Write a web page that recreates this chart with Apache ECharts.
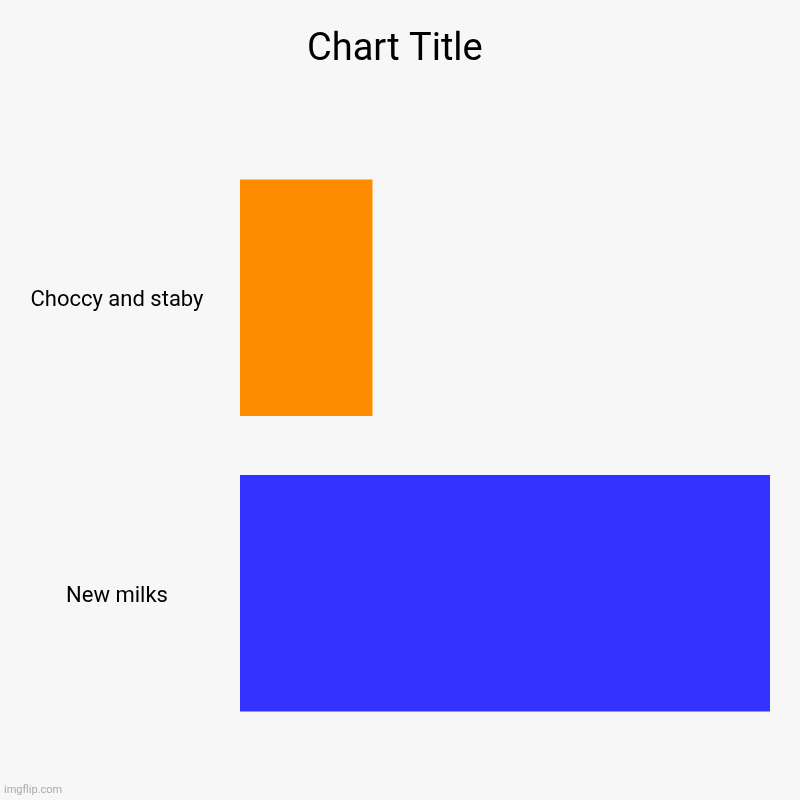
<!DOCTYPE html>
<html>
<head>
<meta charset="utf-8">
<script src="https://cdn.jsdelivr.net/npm/echarts@6/dist/echarts.min.js"></script>
<style>
  html, body { margin: 0; padding: 0; background: #f7f7f7; }
  #main { width: 800px; height: 800px; }
</style>
</head>
<body>
<div id="main"></div>
<script>
// chart data
const categories = ["Choccy and staby", "New milks"];
const values = [1, 4];
const barColors = ["#ff8c00", "#3333ff"];

var myChart = echarts.init(document.getElementById("main"));

var option = {
  backgroundColor: "#f7f7f7",
  animation: false,
  title: {
    text: "Chart Title",
    left: 302,
    top: 26,
    textStyle: { fontFamily: "Roboto", fontSize: 38, fontWeight: "normal", color: "#000" },
  },
  grid: { left: 240, right: 30, top: 150, bottom: 59 },
  xAxis: {
    type: "value",
    min: 0,
    max: Math.max(...values),
    show: false,
  },
  yAxis: {
    type: "category",
    data: categories,
    inverse: true,
    axisLine: { show: false },
    axisTick: { show: false },
    axisLabel: {
      align: "center",
      verticalAlign: "top",
      margin: 123,
      padding: [-8, 0, 0, 0],
      fontFamily: "Roboto",
      fontSize: 22,
      color: "#000",
    },
  },
  series: [
    {
      type: "bar",
      barCategoryGap: "20%",
      data: values.map((v, i) => ({ value: v, itemStyle: { color: barColors[i] } })),
    },
  ],
  graphic: [
    {
      type: "text",
      left: 4,
      bottom: 4,
      style: { text: "imgflip.com", fontFamily: "Roboto", fontSize: 11, fill: "#aaaaaa" },
    },
  ],
};
myChart.setOption(option);
</script>
</body>
</html>
